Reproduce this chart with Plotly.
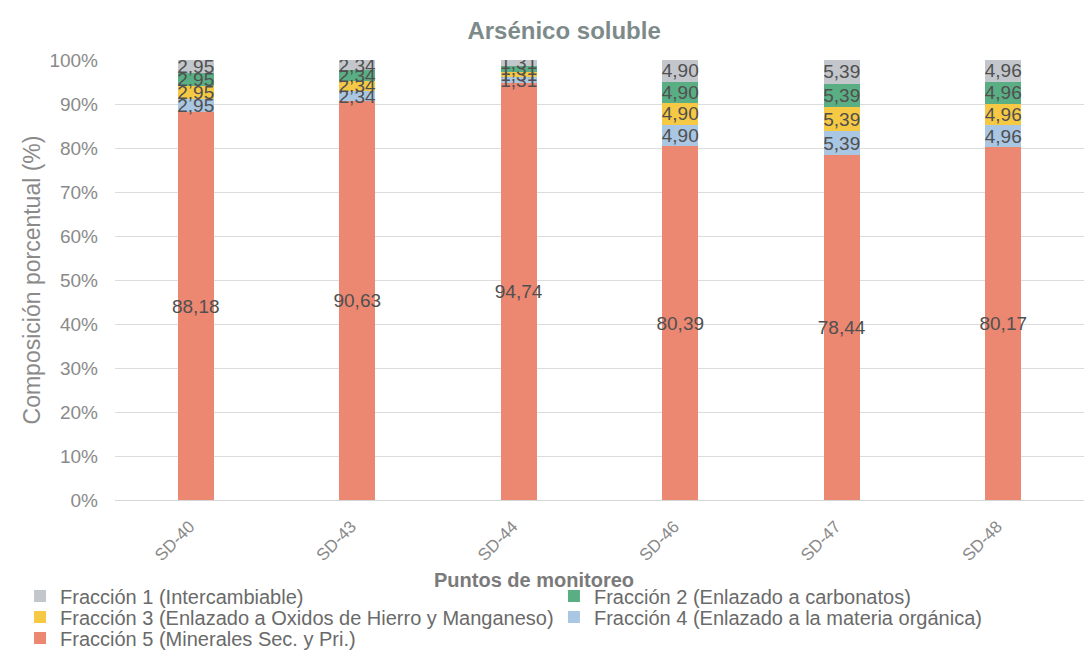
import plotly.graph_objects as go

# Sampling points and fraction percentages (arsenic, soluble)
puntos = ["SD-40", "SD-43", "SD-44", "SD-46", "SD-47", "SD-48"]
fraccion_1 = [2.95, 2.34, 1.31, 4.90, 5.39, 4.96]
fraccion_2 = [2.95, 2.34, 1.31, 4.90, 5.39, 4.96]
fraccion_3 = [2.95, 2.34, 1.31, 4.90, 5.39, 4.96]
fraccion_4 = [2.95, 2.34, 1.31, 4.90, 5.39, 4.96]
fraccion_5 = [88.18, 90.63, 94.74, 80.39, 78.44, 80.17]

nombres = {
    1: "Fracción 1 (Intercambiable)",
    2: "Fracción 2 (Enlazado a carbonatos)",
    3: "Fracción 3 (Enlazado a Oxidos de Hierro y Manganeso)",
    4: "Fracción 4 (Enlazado a la materia orgánica)",
    5: "Fracción 5 (Minerales Sec. y Pri.)",
}
colores = {1: "#C3C7CC", 2: "#5AAE84", 3: "#F6C945", 4: "#A9C6E2", 5: "#EC8772"}

# each legend entry sits in its own box: two columns, three rows
legend_slot = {1: ("legend", 0, 0), 2: ("legend2", 1, 0), 3: ("legend3", 0, 1),
               4: ("legend4", 1, 1), 5: ("legend5", 0, 2)}
col_x = [-0.098, 0.453]
row_y = [-0.218, -0.2659, -0.3136]

# stacked bottom-to-top: F5, F4, F3, F2, F1
series = [(5, fraccion_5), (4, fraccion_4), (3, fraccion_3), (2, fraccion_2), (1, fraccion_1)]

FONT = "Liberation Sans, Arial, sans-serif"

fig = go.Figure()
for k, vals in series:
    fig.add_trace(go.Bar(
        x=puntos, y=vals, name=nombres[k], legend=legend_slot[k][0],
        marker=dict(color=colores[k], line=dict(width=0)),
        texttemplate="%{y:.2f}",
        textposition="inside", insidetextanchor="middle",
        textangle=0, constraintext="none",
        textfont=dict(family=FONT, size=19, color="#505050"),
        hoverinfo="skip",
    ))

legend_font = dict(family=FONT, size=20, color="#6a6a6a")
legends = {}
for k, (name, c, r) in legend_slot.items():
    legends[name] = dict(orientation="v", x=col_x[c], xanchor="left",
                         y=row_y[r], yanchor="middle", itemwidth=30,
                         font=legend_font, bgcolor="rgba(0,0,0,0)")

fig.update_layout(
    width=1089, height=650,
    barmode="stack", bargap=0.78,
    separators=",.",
    paper_bgcolor="white", plot_bgcolor="white",
    margin=dict(l=115, r=5, t=60, b=150, autoexpand=False),
    font=dict(family=FONT, color="#7f7f7f"),
    title=dict(text="<b>Arsénico soluble</b>", x=0.518, xref="container", xanchor="center",
               y=0.953, yref="container", yanchor="middle",
               font=dict(family=FONT, size=24, color="#7d8a8a")),
    yaxis=dict(range=[0, 100], dtick=10, ticksuffix="%",
               showgrid=True, gridcolor="#dcdcdc", gridwidth=1,
               zeroline=False, ticks="", ticklen=0, ticklabelstandoff=16,
               tickfont=dict(family=FONT, size=19, color="#8a8a8a"),
               title=dict(text="Composición porcentual (%)", standoff=2,
                          font=dict(family=FONT, size=23, color="#8a8a8a"))),
    xaxis=dict(tickangle=-45, showline=True, linecolor="#d6d6d6",
               ticklabelstandoff=9, ticklabelshift=-6,
               tickfont=dict(family=FONT, size=17, color="#8a8a8a")),
    showlegend=True,
    **legends,
)

fig.add_annotation(text="<b>Puntos de monitoreo</b>", xref="paper", yref="paper",
                   x=0.432, y=-0.182, xanchor="center", yanchor="middle",
                   showarrow=False, font=dict(family=FONT, size=20, color="#7a7a7a"))

fig.write_html("out.html")
